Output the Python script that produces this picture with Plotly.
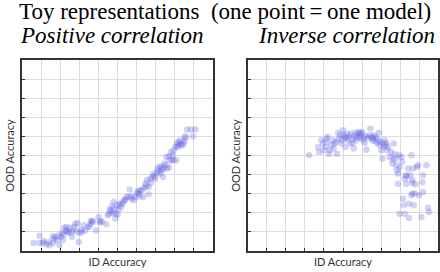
import plotly.graph_objects as go

# Left panel: positive correlation (ID accuracy, OOD accuracy), read in zoom pixel units then converted
pos_px = [(100,578),(118,578),(118,556),(128,578),(138,582),(148,585),(158,578),(158,558),(165,560),(170,570),
          (178,585),(182,560),(185,548),(188,568),(192,532),(198,530),(200,545),(205,543),(210,548),(215,560),
          (218,540),(225,520),(228,543),(235,575),(238,548),(245,545),(250,525),(255,540),(262,530),(270,520),
          (272,512),(278,515),(288,540),(295,500),(300,512),(305,515),(318,522),(322,495),(328,478),(335,468),
          (338,488),(345,490),(352,492),(345,505),(340,455),(350,465),(358,460),(362,470),(368,455),(372,450),
          (378,440),(385,440),(388,418),(392,438),(400,450),(405,440),(410,430),(415,430),(420,420),(425,420),
          (428,440),(432,412),(435,400),(440,390),(445,410),(445,432),(450,385),(455,380),(460,370),(465,385),
          (470,368),(472,355),(478,348),(480,370),(485,360),(488,380),(492,340),(496,345),(500,355),(506,352),
          (498,320),(506,318),(512,305),(515,330),(520,330),(528,330),(520,300),(525,290),(530,280),(535,275),
          (540,270),(546,285),(550,280),(555,258),(560,238),(572,238),(585,238),(578,258),(556,262),(535,285),
          (130,572),(145,575),(160,565),(175,555),(190,552),(196,540),(208,532),(222,530),(232,518),(242,538),
          (268,528),(276,512),(298,516),(326,490),(332,482),(342,475),(355,478),(365,462),(375,448),(395,445),
          (412,422),(418,438),(438,408),(452,398),(462,378),(476,362),(484,352),(490,355),(508,330),(518,315),
          (532,290),(542,282),(552,272)]
pos_x = [round((a - 65) / 573, 3) for a, b in pos_px]
pos_y = [round((602 - b) / 572, 3) for a, b in pos_px]

inv_px = [(268,315),(295,290),(298,305),(305,270),(310,280),(312,300),(318,290),(320,265),(322,275),(325,260),
          (328,310),(330,300),(335,285),(340,270),(342,295),(345,280),(350,275),(352,310),(355,248),(358,265),
          (362,255),(365,280),(368,270),(370,240),(372,255),(375,262),(378,290),(380,262),(382,250),(385,270),
          (388,258),(392,280),(395,250),(398,265),(400,278),(402,295),(405,258),(408,248),(410,270),(412,262),
          (415,250),(418,245),(420,255),(422,262),(425,250),(428,245),(430,270),(432,262),(435,278),(438,258),
          (440,298),(445,262),(450,255),(452,235),(455,262),(458,270),(460,262),(462,255),(465,272),(468,260),
          (472,278),(475,268),(478,248),(480,285),(482,275),(485,300),(488,325),(490,280),(492,290),(495,270),
          (498,285),(500,278),(502,300),(505,290),(510,320),(515,305),(518,340),(520,328),(522,280),(525,312),
          (528,325),(530,345),(532,360),(535,370),(535,400),(538,315),(540,352),(545,320),(548,335),(550,445),
          (552,465),(555,385),(558,375),(560,400),(562,378),(565,355),(568,460),(572,375),(575,315),(575,435),
          (578,390),(578,398),(580,355),(582,465),(585,430),(588,402),(592,350),(595,345),(598,435),(605,500),
          (608,395),(610,375),(610,425),(540,490),(555,490),(568,503),(625,472),(628,485),(620,345),(578,430)]
inv_x = [round((a - 85) / 570, 3) for a, b in inv_px]
inv_y = [round((602 - b) / 572, 3) for a, b in inv_px]

marker = dict(size=6.5, color="rgb(95,95,225)", opacity=0.28, line=dict(width=0))

fig = go.Figure()
fig.add_trace(go.Scatter(x=pos_x, y=pos_y, mode="markers", marker=marker, xaxis="x", yaxis="y", showlegend=False))
fig.add_trace(go.Scatter(x=inv_x, y=inv_y, mode="markers", marker=marker, xaxis="x2", yaxis="y2", showlegend=False))

ax = dict(range=[0, 1], dtick=0.1, tick0=0, showgrid=True, gridcolor="#dcdcdc", gridwidth=1,
          showline=True, linecolor="#333333", linewidth=1.5, mirror=True, ticks="inside", ticklen=3,
          tickcolor="#333333", showticklabels=False, zeroline=False, fixedrange=True,
          title_font=dict(family="Lato", size=11, color="#333333"))

SERIF = "Liberation Serif, Times New Roman, Times, serif"

fig.update_layout(
    width=440, height=272, margin=dict(l=0, r=0, t=0, b=0),
    paper_bgcolor="white", plot_bgcolor="white",
    xaxis=dict(ax, domain=[0.05, 0.484], anchor="y", title=dict(text="ID Accuracy", standoff=6)),
    yaxis=dict(ax, domain=[0.077, 0.779], anchor="x", title=dict(text="OOD Accuracy", standoff=3)),
    xaxis2=dict(ax, domain=[0.5636, 0.9955], anchor="y2", title=dict(text="ID Accuracy", standoff=6)),
    yaxis2=dict(ax, domain=[0.077, 0.779], anchor="x2", title=dict(text="OOD Accuracy", standoff=3)),
    annotations=[
        dict(text="Toy representations\u00a0\u00a0(one point\u2009=\u2009one model)", x=225, y=272 - 12,
             showarrow=False, font=dict(family=SERIF, size=23, color="black")),
        dict(text="<i>Positive correlation</i>", x=111, y=272 - 35, showarrow=False,
             font=dict(family=SERIF, size=23, color="black")),
        dict(text="<i>Inverse correlation</i>", x=346, y=272 - 35, showarrow=False,
             font=dict(family=SERIF, size=23, color="black")),
    ],
)
# convert annotation pixel positions to paper fractions
for a in fig.layout.annotations:
    a.xref = "paper"; a.yref = "paper"
    a.x = a.x / 440; a.y = a.y / 272
    a.xanchor = "center"; a.yanchor = "middle"

fig.write_html("out.html", post_script="document.body.style.margin='0';",
               config={"displayModeBar": False})
